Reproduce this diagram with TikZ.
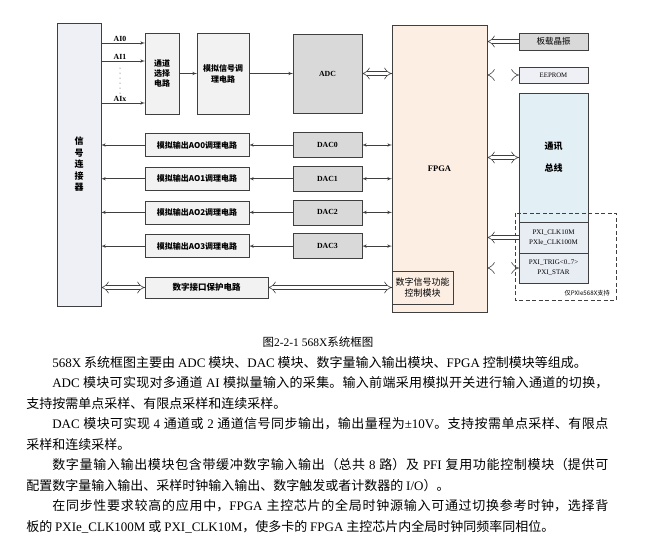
\documentclass[tikz,border=0pt]{standalone}
\usepackage{fontspec}
\setmainfont{Liberation Serif}
\newfontfamily\cjk{Noto Sans CJK SC}
\usepackage{tikz}
\usetikzlibrary{arrows, positioning, calc, shadows}

\definecolor{linec}{HTML}{3F3F3F}
\definecolor{connfill}{HTML}{EEF0F6}
\definecolor{lightfill}{HTML}{F2F2F2}
\definecolor{darkfill}{HTML}{D9D9D9}
\definecolor{fpgafill}{HTML}{FDEEE4}
\definecolor{eefill}{HTML}{EFEFF6}
\definecolor{busfill}{HTML}{E2EFF5}
\definecolor{pxifill}{HTML}{E8ECF3}

\XeTeXlinebreaklocale "zh"
\XeTeXlinebreakskip=0pt plus 1pt

\newcommand{\en}[1]{{\rmfamily #1}}

\begin{document}
\begin{tikzpicture}[x=1pt, y=-1pt, line width=0.6pt,
    block/.style={rectangle, draw=linec, inner sep=0pt, outer sep=0pt, align=center},
    hei/.style={font=\cjk\bfseries\fontsize{8}{10}\selectfont},
    song/.style={font=\cjk\fontsize{8.5}{11}\selectfont},
    latb/.style={font=\rmfamily\bfseries\fontsize{7.8}{9}\selectfont},
    latr/.style={font=\rmfamily\fontsize{7}{10}\selectfont},
    arr/.style={draw=linec, -latex'},
    darr/.style={draw=linec, latex'-latex'},
    hol/.style={draw=linec, double=white, double distance=3.6pt, implies-implies},
    holone/.style={draw=linec, double=white, double distance=3.6pt, -implies}]

    \useasboundingbox (0,0) rectangle (670,536);

    % analog input chain
    \node [block, fill=connfill, minimum width=44pt, minimum height=283pt,
           font=\cjk\bfseries\fontsize{9}{11.5}\selectfont] (conn) at (79,164.5) {信\\号\\连\\接\\器};
    \node [block, fill=lightfill, minimum width=34pt, minimum height=81pt, hei] (chsel) at (162,73.5) {通道\\选择\\电路};
    \node [block, fill=lightfill, minimum width=52pt, minimum height=81pt, right=18pt of chsel,
           font=\cjk\bfseries\fontsize{8}{11}\selectfont] (cond) {模拟信号调\\理电路};
    \node [block, fill=darkfill, minimum width=69pt, minimum height=79pt, right=44pt of cond, latb] (adc) {ADC};
    \node [block, fill=fpgafill, minimum width=95pt, minimum height=287pt,
           font=\rmfamily\bfseries\fontsize{8.5}{10}\selectfont] (fpga) at (439.5,168.5) {FPGA};

    % right side
    \node [block, fill=darkfill, minimum width=69pt, minimum height=17pt, song,
           drop shadow={shadow xshift=1pt, shadow yshift=-1pt, fill=black!45}] (osc) at (553.5,41.5) {板载晶振};
    \node [block, fill=eefill, minimum width=69pt, minimum height=16pt, below=17pt of osc,
           font=\rmfamily\fontsize{6.8}{8}\selectfont] (eeprom) {EEPROM};
    \node [block, fill=busfill, minimum width=69pt, minimum height=129pt, below=10pt of eeprom,
           font=\cjk\bfseries\fontsize{9}{22}\selectfont] (bus) {通讯\\总线};
    \node [block, fill=pxifill, minimum width=69pt, minimum height=31pt, below=0pt of bus, latr] (clk) {PXI\_CLK10M\\PXIe\_CLK100M};
    \node [block, fill=pxifill, minimum width=69pt, minimum height=30pt, below=0pt of clk, latr] (trig) {PXI\_TRIG<0..7>\\PXI\_STAR};

    \coordinate (frse) at ($(trig.south east)+(28,17)$);
    \draw [linec, line width=0.8pt, dash pattern=on 4pt off 2.5pt] ($(clk.north west)+(-4,-9)$) rectangle (frse);
    \node [font=\cjk\fontsize{6.2}{7}\selectfont, anchor=south east, inner sep=0pt] (note) at ($(frse)+(-6,-4)$) {仅PXIe568X支持};

    % analog outputs
    \node [block, fill=darkfill, minimum width=69pt, minimum height=25pt, latb] (dac0) at (327.5,145) {DAC0};
    \node [block, fill=darkfill, minimum width=69pt, minimum height=25pt, latb, below=8.7pt of dac0] (dac1) {DAC1};
    \node [block, fill=darkfill, minimum width=69pt, minimum height=25pt, latb, below=8.7pt of dac1] (dac2) {DAC2};
    \node [block, fill=darkfill, minimum width=69pt, minimum height=25pt, latb, below=8.7pt of dac2] (dac3) {DAC3};
    \node [block, fill=lightfill, minimum width=104pt, minimum height=23pt, hei, left=44pt of dac0] (ao0) {模拟输出AO0调理电路};
    \node [block, fill=lightfill, minimum width=104pt, minimum height=23pt, hei, left=44pt of dac1] (ao1) {模拟输出AO1调理电路};
    \node [block, fill=lightfill, minimum width=104pt, minimum height=23pt, hei, left=44pt of dac2] (ao2) {模拟输出AO2调理电路};
    \node [block, fill=lightfill, minimum width=104pt, minimum height=23pt, hei, left=44pt of dac3] (ao3) {模拟输出AO3调理电路};

    % digital
    \node [block, fill=lightfill, minimum width=123pt, minimum height=21pt,
           font=\cjk\bfseries\fontsize{8.5}{10}\selectfont] (dio) at (206.5,287.5) {数字接口保护电路};
    \node [block, fill=fpgafill, minimum width=61pt, minimum height=33pt,
           font=\cjk\fontsize{9}{11}\selectfont] (dsf) at (422.5,287.5) {数字信号功能\\控制模块};

    % inputs
    \coordinate (in0) at ([yshift=-10pt]chsel.north west);
    \coordinate (in1) at ([yshift=-28pt]chsel.north west);
    \coordinate (inx) at ([yshift=11pt]chsel.south west);
    \draw [arr] (conn.east |- in0) -- node[latb, above, inner sep=1pt, pos=0.43] {AI0} (in0);
    \draw [arr] (conn.east |- in1) -- node[latb, above, inner sep=1pt, pos=0.43] {AI1} (in1);
    \draw [arr] (conn.east |- inx) -- node[latb, above, inner sep=1pt, pos=0.43] {AIx} (inx);
    \foreach \k in {0,...,5}
        \fill [linec] (120,68+5*\k) circle (0.5pt);

    \draw [arr] (chsel) -- (cond);
    \draw [arr] (cond) -- (adc);
    \draw [hol] (adc) -- (adc -| fpga.west);

    \draw [holone] (osc) -- (osc -| fpga.east);
    \draw [hol] (eeprom) -- (eeprom -| fpga.east);
    \draw [hol] (bus) -- (bus -| fpga.east);
    \draw [holone] (clk) -- (clk -| fpga.east);
    \draw [hol] (trig) -- (trig -| fpga.east);

    \foreach \i in {0,...,3} {
        \draw [arr] (dac\i) -- (ao\i);
        \draw [arr] (ao\i) -- (ao\i -| conn.east);
        \draw [darr] (dac\i) -- (dac\i -| fpga.west);
    }

    \draw [hol] (dio) -- (dio -| conn.east);
    \draw [hol] (dio) -- (dsf);

    % caption and text
    \node [font=\fontsize{11.5}{13}\selectfont] (cap) at (318,342) {{\cjk 图}2-2-1 568X{\cjk 系统框图}};
    \node [anchor=base west, inner sep=0pt, text width=582pt, align=justify,
           font=\cjk\fontsize{13}{20.5}\selectfont] (body) at (26,367) {%
        \hspace*{2em}\en{568X} 系统框图主要由 \en{ADC} 模块、\en{DAC} 模块、数字量输入输出模块、\en{FPGA} 控制模块等组成。\par
        \hspace*{2em}\en{ADC} 模块可实现对多通道 \en{AI} 模拟量输入的采集。输入前端采用模拟开关进行输入通道的切换，\linebreak
        支持按需单点采样、有限点采样和连续采样。\par
        \hspace*{2em}\en{DAC} 模块可实现 \en{4} 通道或 \en{2} 通道信号同步输出，输出量程为\en{±10V}。支持按需单点采样、有限点\linebreak
        采样和连续采样。\par
        \hspace*{2em}数字量输入输出模块包含带缓冲数字输入输出（总共 \en{8} 路）及 \en{PFI} 复用功能控制模块（提供可\linebreak
        配置数字量输入输出、采样时钟输入输出、数字触发或者计数器的 \en{I/O}）。\par
        \hspace*{2em}在同步性要求较高的应用中，\en{FPGA} 主控芯片的全局时钟源输入可通过切换参考时钟，选择背\linebreak
        板的 \en{PXIe\_CLK100M} 或 \en{PXI\_CLK10M}，使多卡的 \en{FPGA} 主控芯片内全局时钟同频率同相位。};
\end{tikzpicture}
\end{document}
